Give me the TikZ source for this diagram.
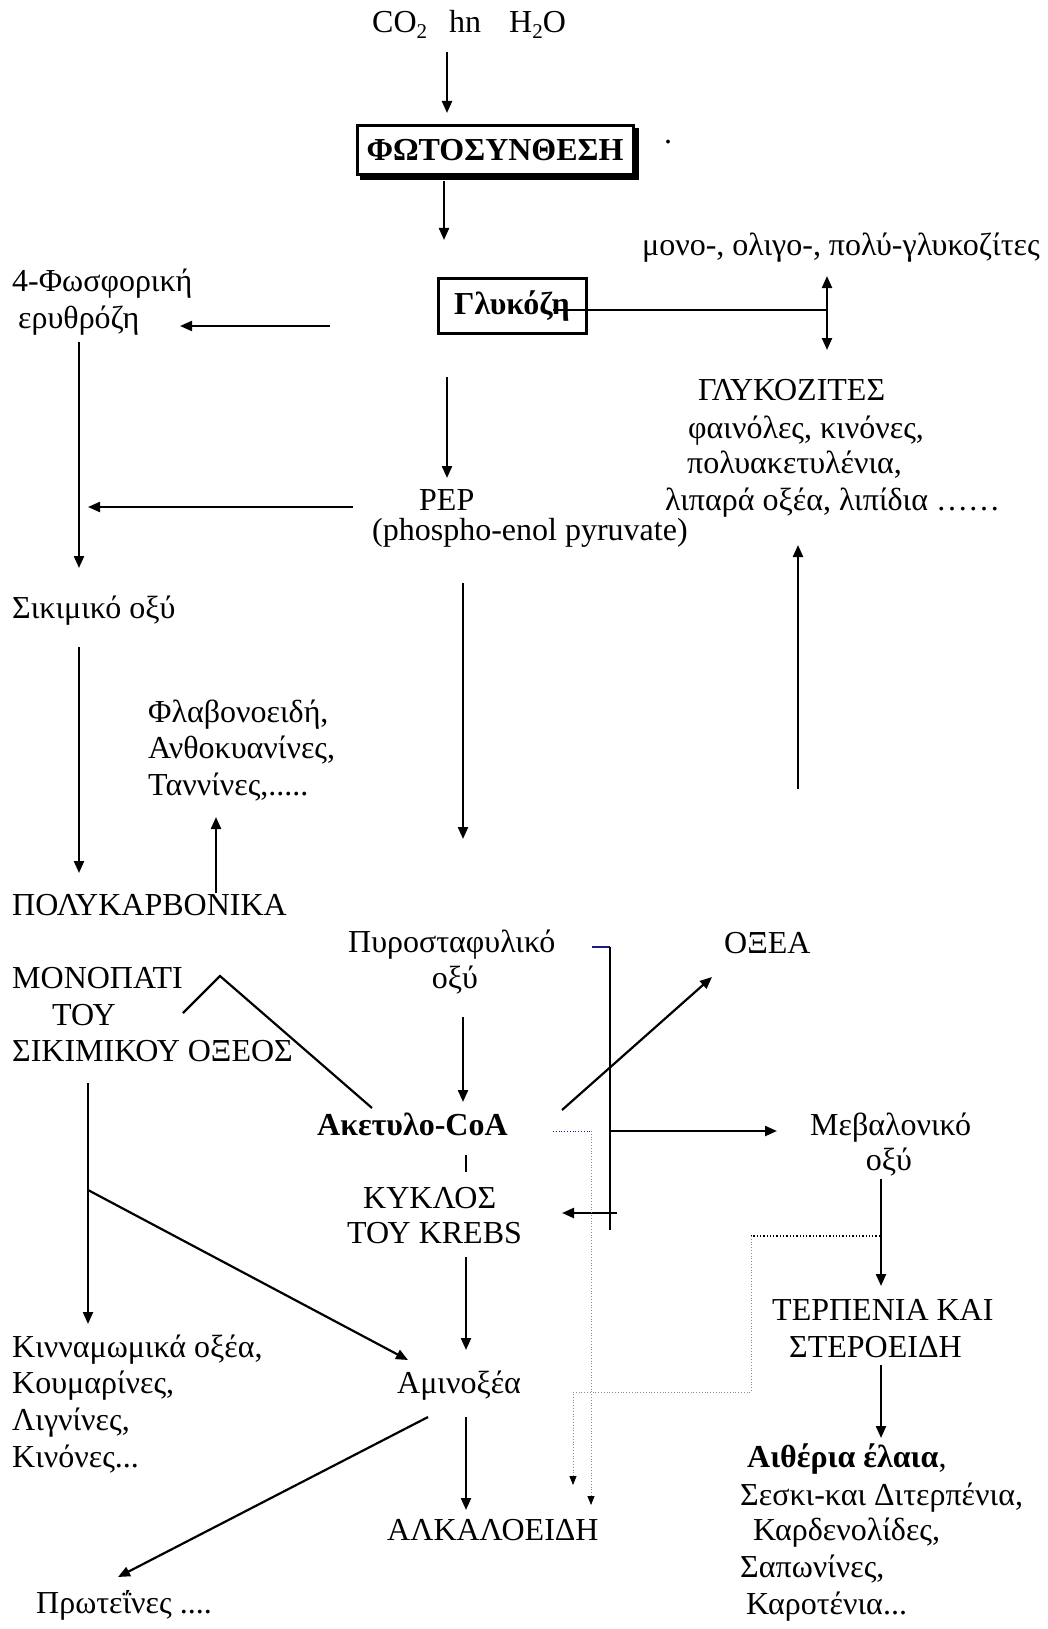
\documentclass[tikz,border=0pt]{standalone}
\usepackage{fontspec}
\setmainfont{Liberation Serif}
\usetikzlibrary{arrows.meta,positioning,calc,backgrounds}
\definecolor{path-navy}{HTML}{1A1A80}
\definecolor{path-grey}{HTML}{8C8C8C}
\newcommand{\chemsub}[1]{\raisebox{-6pt}{\fontsize{21}{21}\selectfont #1}}

\begin{document}
\begin{tikzpicture}[x=1pt,y=-1pt,
  every node/.style={inner sep=0pt,font=\fontsize{32}{37}\selectfont},
  lbl/.style={anchor=base west},
  clbl/.style={anchor=base},
  flow/.style={line width=2.2pt,-{Triangle[length=12pt,width=10pt]}},
  both/.style={line width=2.2pt,{Triangle[length=12pt,width=10pt]}-{Triangle[length=12pt,width=10pt]}},
  link/.style={line width=2.2pt},
  trace/.style={path-grey,line width=0.8pt,dotted},
  tracetip/.style={trace,-{Triangle[length=9pt,width=7pt,color=black]}},
  framed/.style={draw,line width=3pt,fill=white,font=\fontsize{32}{37}\selectfont\bfseries}]
  \useasboundingbox (0,0) rectangle (1048,1629);

  \node[lbl] (inputs) at (372,33) {CO\chemsub{2}\hspace{22pt}hn\hspace{28pt}H\chemsub{2}O};
  \node[framed,minimum width=276pt,minimum height=49pt] (photo) at (495,150) {ΦΩΤΟΣΥΝΘΕΣΗ};
  \begin{scope}[on background layer]
    \fill ($(photo.south west)+(4,4)$) rectangle ($(photo.north east)+(4,4)$);
  \end{scope}
  \node[lbl] (dot) at (664,144) {.};
  \node[framed,minimum width=148pt,minimum height=55pt] (glucose) at (512,306) {Γλυκόζη\hspace{14pt}};
  \node[lbl] (glycosides) at (642,255) {μονο-, ολιγο-, πολύ-γλυκοζίτες};
  \node[lbl] (erythroseA) at (12,291) {4-Φωσφορική};
  \node[lbl] (erythroseB) at (18,328) {ερυθρόζη};
  \node[lbl] (glyA) at (698,400) {ΓΛΥΚΟΖΙΤΕΣ};
  \node[lbl] (glyB) at (688,438) {φαινόλες, κινόνες,};
  \node[lbl] (glyC) at (687,473) {πολυακετυλένια,};
  \node[lbl] (glyD) at (665,510) {λιπαρά οξέα, λιπίδια ……};
  \node[lbl] (pep) at (419,510) {PEP};
  \node[lbl] (pepfull) at (372,540) {(phospho-enol pyruvate)};
  \node[lbl] (shikimic) at (12,618) {Σικιμικό οξύ};
  \node[lbl] (flavA) at (148,722) {Φλαβονοειδή,};
  \node[lbl] (flavB) at (148,758) {Ανθοκυανίνες,};
  \node[lbl] (flavC) at (148,795) {Ταννίνες,.....};
  \node[lbl] (polyc) at (12,915) {ΠΟΛΥΚΑΡΒΟΝΙΚΑ};
  \node[lbl] (pathA) at (12,988) {ΜΟΝΟΠΑΤΙ};
  \node[lbl] (pathB) at (52,1025) {ΤΟΥ};
  \node[lbl] (pathC) at (12,1061) {ΣΙΚΙΜΙΚΟΥ ΟΞΕΟΣ};
  \node[lbl] (pyrA) at (348,952) {Πυροσταφυλικό};
  \node[clbl] (pyrB) at (455,988) {οξύ};
  \node[lbl] (fatty) at (724,953) {ΟΞΕΑ};
  \node[lbl,font=\fontsize{32}{37}\selectfont\bfseries] (acetyl) at (317,1135) {Ακετυλο-CoA};
  \node[lbl] (mevA) at (810,1135) {Μεβαλονικό};
  \node[clbl] (mevB) at (889,1170) {οξύ};
  \node[lbl] (krebsA) at (363,1208) {ΚΥΚΛΟΣ};
  \node[lbl] (krebsB) at (347,1243) {ΤΟΥ KREBS};
  \node[lbl] (terpA) at (772,1320) {ΤΕΡΠΕΝΙΑ ΚΑΙ};
  \node[lbl] (terpB) at (789,1357) {ΣΤΕΡΟΕΙΔΗ};
  \node[lbl] (cinnA) at (12,1357) {Κινναμωμικά οξέα,};
  \node[lbl] (cinnB) at (12,1393) {Κουμαρίνες,};
  \node[lbl] (cinnC) at (12,1430) {Λιγνίνες,};
  \node[lbl] (cinnD) at (12,1467) {Κινόνες...};
  \node[lbl] (amino) at (397,1393) {Αμινοξέα};
  \node[lbl] (oilA) at (747,1467) {\textbf{Αιθέρια έλαια},};
  \node[lbl] (oilB) at (740,1505) {Σεσκι-και Διτερπένια,};
  \node[lbl] (oilC) at (753,1540) {Καρδενολίδες,};
  \node[lbl] (oilD) at (740,1577) {Σαπωνίνες,};
  \node[lbl] (oilE) at (746,1614) {Καροτένια...};
  \node[lbl] (alkal) at (387,1540) {ΑΛΚΑΛΟΕΙΔΗ};
  \node[lbl] (protein) at (36,1613) {Πρωτεΐνες ....};

  \coordinate (inDown) at (447,52);
  \coordinate (photoIn) at (447,113);
  \coordinate (photoOut) at (444,181);
  \coordinate (glucIn) at (444,240);
  \coordinate (glucTie) at (553,310);
  \coordinate (glycTie) at (827,310);
  \coordinate (glycUp) at (827,276);
  \coordinate (glycDown) at (827,350);
  \coordinate (glucLeft) at (330,326);
  \coordinate (eryIn) at (180,326);
  \coordinate (eryDown) at (79,342);
  \coordinate (shikIn) at (79,568);
  \coordinate (glucDown) at (447,377);
  \coordinate (pepIn) at (447,478);
  \coordinate (pepLeft) at (353,507);
  \coordinate (shikSide) at (88,507);
  \coordinate (pepDown) at (463,583);
  \coordinate (pyrIn) at (463,839);
  \coordinate (risePos) at (798,789);
  \coordinate (glyIn) at (798,545);
  \coordinate (shikDown) at (79,647);
  \coordinate (polyIn) at (79,873);
  \coordinate (polyUp) at (216,893);
  \coordinate (flavIn) at (216,817);
  \coordinate (capL) at (183,1013);
  \coordinate (capT) at (220,976);
  \coordinate (capR) at (372,1108);
  \coordinate (pathDown) at (88,1083);
  \coordinate (pathFork) at (88,1190);
  \coordinate (cinnIn) at (88,1324);
  \coordinate (aminoSide) at (408,1360);
  \coordinate (pyrDown) at (463,1017);
  \coordinate (acetIn) at (463,1102);
  \coordinate (tickA) at (466,1155);
  \coordinate (tickB) at (466,1172);
  \coordinate (acetOut) at (562,1110);
  \coordinate (fattyIn) at (712,977);
  \coordinate (barNavy) at (592,947);
  \coordinate (barTop) at (610,947);
  \coordinate (barBot) at (610,1230);
  \coordinate (barMid) at (610,1131);
  \coordinate (mevIn) at (777,1131);
  \coordinate (barTick) at (617,1213);
  \coordinate (krebsIn) at (562,1213);
  \coordinate (mevDown) at (881,1179);
  \coordinate (terpIn) at (881,1286);
  \coordinate (terpDown) at (881,1365);
  \coordinate (oilIn) at (881,1438);
  \coordinate (krebsDown) at (466,1257);
  \coordinate (aminoIn) at (466,1350);
  \coordinate (aminoDown) at (466,1417);
  \coordinate (alkalIn) at (466,1510);
  \coordinate (aminoOut) at (428,1417);
  \coordinate (proteinIn) at (118,1577);
  \coordinate (dotA) at (553,1131);
  \coordinate (dotB) at (591,1131);
  \coordinate (dotC) at (591,1505);
  \coordinate (dotD) at (880,1236);
  \coordinate (dotE) at (751,1236);
  \coordinate (dotF) at (751,1392);
  \coordinate (dotG) at (573,1392);
  \coordinate (dotH) at (573,1485);

  \draw[flow] (inDown) -- (photoIn);
  \draw[flow] (photoOut) -- (glucIn);
  \draw[link] (glucTie) -- (glycTie);
  \draw[both] (glycUp) -- (glycDown);
  \draw[flow] (glucLeft) -- (eryIn);
  \draw[flow] (eryDown) -- (shikIn);
  \draw[flow] (glucDown) -- (pepIn);
  \draw[flow] (pepLeft) -- (shikSide);
  \draw[flow] (pepDown) -- (pyrIn);
  \draw[flow] (risePos) -- (glyIn);
  \draw[flow] (shikDown) -- (polyIn);
  \draw[flow] (polyUp) -- (flavIn);
  \draw[link] (capL) -- (capT) -- (capR);
  \draw[flow] (pathDown) -- (cinnIn);
  \draw[flow] (pathFork) -- (aminoSide);
  \draw[flow] (pyrDown) -- (acetIn);
  \draw[link] (tickA) -- (tickB);
  \draw[flow] (acetOut) -- (fattyIn);
  \draw[path-navy,line width=2.2pt] (barNavy) -- (barTop);
  \draw[link] (barTop) -- (barBot);
  \draw[flow] (barMid) -- (mevIn);
  \draw[flow] (barTick) -- (krebsIn);
  \draw[flow] (mevDown) -- (terpIn);
  \draw[flow] (terpDown) -- (oilIn);
  \draw[flow] (krebsDown) -- (aminoIn);
  \draw[flow] (aminoDown) -- (alkalIn);
  \draw[flow] (aminoOut) -- (proteinIn);
  \draw[trace,path-navy] (dotA) -- (dotB);
  \draw[tracetip] (dotB) -- (dotC);
  \draw[line width=1.3pt,dotted] (dotD) -- (dotE);
  \draw[tracetip] (dotE) -- (dotF) -- (dotG) -- (dotH);
\end{tikzpicture}
\end{document}
